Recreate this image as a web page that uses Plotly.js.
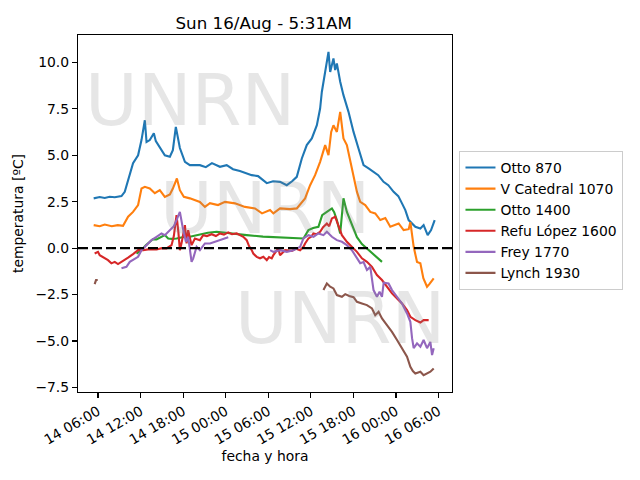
<!DOCTYPE html>
<html>
<head>
<meta charset="utf-8">
<script src="https://cdn.plot.ly/plotly-3.0.1.min.js"></script>
<style>
  body { margin: 0; background: #fff; }
  #plot { width: 640px; height: 480px; }
</style>
</head>
<body>
<div id="plot"></div>
<script>
// hours counted from 14/Aug 00:00, temperatures in ºC, null = no data
var otto870Hours = [5.39, 6.24, 6.95, 7.65, 8.36, 9.31, 9.77, 10.48, 10.94, 11.65, 12.13, 12.6, 12.84, 13.3, 13.87, 14.15, 14.71, 15.42, 16.13, 16.55, 16.97, 17.54, 18.25, 18.95, 20.36, 21.2, 22.06, 23.19, 24.14, 25.03, 26.0, 27.67, 28.56, 29.79, 30.68, 31.66, 32.61, 33.36, 34.02, 34.73, 35.43, 36.14, 36.85, 37.31, 37.55, 38.02, 38.49, 38.73, 39.19, 39.43, 39.67, 40.14, 40.6, 41.31, 42.02, 42.72, 43.43, 44.14, 44.84, 45.5, 46.25, 46.92, 47.67, 48.33, 48.85, 49.32, 49.79, 50.31, 50.73, 51.44, 51.9, 52.47, 52.95, 53.46];
var otto870Temp = [2.68, 2.75, 2.7, 2.77, 2.74, 2.8, 3.03, 3.93, 4.58, 5.0, 5.82, 6.89, 5.72, 5.82, 6.19, 5.76, 5.45, 5.0, 4.92, 5.28, 6.53, 5.39, 4.65, 4.47, 4.47, 4.36, 4.58, 4.38, 4.47, 4.25, 4.15, 3.93, 3.88, 3.5, 3.6, 3.57, 3.39, 3.6, 3.84, 4.83, 5.55, 5.91, 6.62, 7.52, 8.41, 9.49, 10.57, 9.49, 10.22, 9.59, 9.95, 8.96, 8.24, 7.34, 6.26, 5.37, 4.47, 4.29, 4.11, 3.93, 3.57, 3.39, 3.03, 2.8, 2.41, 2.05, 1.51, 1.29, 1.15, 1.06, 1.24, 0.7, 0.97, 1.51];

var catedralHours = [5.39, 6.24, 6.95, 7.94, 8.78, 9.53, 10.24, 10.94, 11.65, 12.13, 12.6, 13.3, 14.01, 14.71, 15.42, 16.13, 16.55, 17.12, 17.54, 18.1, 18.95, 20.36, 21.07, 21.78, 22.91, 23.9, 25.31, 26.72, 28.13, 29.12, 30.25, 30.72, 31.66, 33.07, 34.02, 35.19, 35.9, 36.6, 37.31, 38.02, 38.49, 38.87, 39.19, 39.67, 40.14, 40.6, 41.08, 41.55, 42.02, 42.5, 42.96, 43.67, 44.38, 45.08, 45.79, 46.5, 47.2, 48.38, 49.08, 49.79, 50.03, 50.5, 50.97, 51.44, 51.86, 52.38, 52.71, 53.32];
var catedralTemp = [1.24, 1.18, 1.27, 1.18, 1.24, 1.2, 1.69, 1.95, 2.32, 3.21, 3.3, 3.21, 2.96, 3.12, 2.76, 2.89, 3.21, 3.75, 3.12, 2.76, 2.68, 2.49, 2.22, 2.42, 2.32, 2.49, 2.41, 2.22, 2.14, 1.87, 2.05, 1.87, 2.14, 2.1, 2.14, 2.68, 3.39, 3.93, 4.65, 5.55, 5.01, 6.26, 6.62, 6.26, 7.34, 5.91, 5.55, 4.65, 3.75, 3.03, 2.49, 2.32, 1.95, 1.87, 1.51, 1.62, 1.15, 1.33, 0.97, 1.02, 1.4, 0.07, -0.75, -0.82, -1.62, -2.08, -1.94, -1.63];

var otto1400Hours = [11.42, 12.13, 12.74, 13.3, 13.73, 14.25, 14.95, 15.42, 15.89, 16.41, 17.07, 17.54, 18.25, 18.95, 20.36, 21.49, 22.72, 24.6, 26.96, 29.26, 31.66, 34.96, 35.66, 36.33, 37.07, 37.6, 38.26, 38.97, 39.29, 39.67, 40.14, 40.6, 41.08, 41.79, 42.5, 43.2, 43.91, 44.84, 46.03];
var otto1400Temp = [-0.29, -0.11, 0.16, 0.34, 0.48, 0.47, 0.61, 0.7, 0.52, 0.5, 0.52, 0.57, 0.61, 0.61, 0.75, 0.83, 0.88, 0.79, 0.7, 0.62, 0.58, 0.52, 0.97, 1.08, 1.15, 1.78, 1.95, 2.14, 1.94, 1.51, 0.79, 2.68, 1.95, 1.24, 0.59, 0.22, -0.02, -0.29, -0.74];

var lopezHours = [5.53, 6.0, 6.24, 6.95, 7.41, 7.89, 8.36, 8.82, 9.53, 10.24, 10.94, 11.65, 12.36, 13.06, 14.25, 15.0, 15.66, 16.37, 16.69, 17.07, 17.33, 17.54, 17.78, 18.0, 18.25, 18.49, 18.71, 19.19, 19.66, 20.36, 20.83, 21.35, 22.02, 22.62, 23.19, 23.75, 24.36, 24.88, 25.55, 26.01, 26.48, 26.96, 27.29, 27.67, 27.89, 28.37, 28.84, 29.31, 29.79, 30.11, 30.49, 30.72, 31.2, 31.42, 31.66, 32.37, 33.32, 33.92, 34.49, 34.96, 35.19, 35.66, 36.04, 36.37, 36.82, 37.31, 37.73, 38.26, 38.59, 38.97, 39.43, 39.9, 40.38, 41.08, 41.79, 42.5, 43.2, 43.91, 44.62, 45.32, 46.03, 46.73, 47.44, 48.15, 48.85, 49.56, 50.03, 50.73, 51.44, 51.9, 52.61];
var lopezTemp = [-0.29, -0.2, -0.38, -0.54, -0.65, -0.82, -0.74, -0.86, -0.7, -0.51, -0.32, -0.11, -0.11, -0.07, -0.07, 0.0, -0.02, 0.16, 0.65, 1.78, 0.86, -0.11, 0.27, 0.7, 1.24, 0.25, 0.97, 0.16, 0.52, 0.43, 0.7, 0.65, 0.75, 0.65, 0.79, 0.73, 0.85, 0.75, 0.79, 0.7, 0.61, 0.43, 0.11, -0.11, -0.29, -0.47, -0.55, -0.47, -0.65, -0.48, -0.55, -0.38, -0.11, -0.02, -0.38, -0.11, -0.15, -0.03, -0.11, 0.07, 0.25, 0.52, 0.61, 0.79, 0.75, 0.88, 1.13, 1.33, 1.18, 1.6, 1.69, 1.15, 0.7, 0.34, 0.07, -0.2, -0.55, -0.74, -1.01, -1.45, -1.72, -2.08, -2.44, -2.71, -2.98, -3.34, -3.7, -3.88, -4.01, -3.88, -3.88];

var freyHours = [9.31, 10.01, 10.48, 11.18, 11.65, 12.13, 12.84, 13.54, 14.25, 14.95, 15.42, 15.89, 16.37, 16.69, 17.07, 17.54, 17.92, 18.39, 18.71, 19.19, 19.42, 19.9, 20.36, 21.07, 21.78, 22.48, 23.19, 23.9, 24.36, 27.0, 30.25, 30.72, 31.66, 32.61, 33.54, 34.49, 34.96, 35.66, 36.37, 37.07, 37.78, 38.26, 38.97, 39.67, 40.38, 41.08, 41.79, 42.5, 42.96, 43.43, 43.91, 44.38, 44.84, 45.32, 45.69, 46.03, 46.27, 46.96, 47.44, 48.15, 48.85, 49.56, 50.03, 50.27, 50.5, 50.97, 51.44, 51.9, 52.38, 52.85, 53.09, 53.32];
var freyTemp = [-1.09, -1.01, -0.74, -0.55, -0.47, -0.11, 0.16, 0.43, 0.61, 0.79, 0.7, 0.88, 1.06, 1.18, 1.51, 1.95, 1.15, 0.34, 0.61, -0.74, -0.55, 0.07, -0.11, 0.25, 0.25, 0.34, 0.43, 0.52, 0.58, null, -0.11, -0.2, -0.11, -0.2, -0.11, 0.07, 0.52, 0.7, 0.61, 0.79, 0.7, 0.88, 0.61, 0.43, 0.34, 0.16, -0.11, -0.55, -0.81, -0.75, -1.18, -1.01, -2.26, -2.62, -2.35, -2.62, -1.86, -1.9, -2.26, -2.62, -2.98, -3.52, -3.97, -4.85, -5.39, -5.13, -5.31, -4.95, -5.39, -5.05, -5.76, -5.4];

var lynchHours = [5.53, 5.72, 5.96, 20.0, 37.78, 38.26, 38.73, 39.19, 39.67, 40.38, 40.85, 41.41, 42.02, 42.5, 43.2, 43.91, 44.62, 45.08, 45.55, 46.03, 46.73, 47.44, 48.15, 48.85, 49.56, 50.03, 50.38, 50.73, 51.44, 51.9, 52.38, 52.85, 53.32];
var lynchTemp = [-1.94, -1.72, -1.72, null, -2.26, -1.9, -2.08, -2.17, -2.53, -2.62, -2.48, -2.58, -2.64, -2.89, -2.98, -3.07, -3.25, -3.61, -3.43, -3.79, -4.15, -4.51, -4.95, -5.4, -5.85, -6.39, -6.62, -6.75, -6.66, -6.84, -6.75, -6.66, -6.48];

var stationNames = ['Otto 870', 'V Catedral 1070', 'Otto 1400', 'Refu López 1600', 'Frey 1770', 'Lynch 1930'];
var stationColors = ['#1f77b4', '#ff7f0e', '#2ca02c', '#d62728', '#9467bd', '#8c564b'];
var stationHours = [otto870Hours, catedralHours, otto1400Hours, lopezHours, freyHours, lynchHours];
var stationTemps = [otto870Temp, catedralTemp, otto1400Temp, lopezTemp, freyTemp, lynchTemp];

//Turns hours after 14/Aug 00:00 into a date string plotly understands
function hourToDate(h) {
    var d = new Date(Date.UTC(2020, 7, 14) + Math.round(h * 3600000));
    return d.toISOString().replace('T', ' ').replace('Z', '');
}

var traces = stationNames.map(function(name, i) {
    return {
        x: stationHours[i].map(hourToDate),
        y: stationTemps[i],
        type: 'scatter',
        mode: 'lines',
        name: name,
        connectgaps: false,
        line: { color: stationColors[i], width: 2.1 }
    };
});

var fontFam = 'DejaVu Sans, sans-serif';
var markColor = 'rgba(128,128,128,0.2)';

//The three "UNRN" marks across the plot
var marks = [[0.3, 0.818], [0.5, 0.516], [0.7, 0.208]].map(function(p) {
    return {
        text: 'UNRN', xref: 'paper', yref: 'paper', x: p[0], y: p[1],
        xanchor: 'center', yanchor: 'middle', showarrow: false,
        font: { family: fontFam, size: 72, color: markColor }
    };
});

var layout = {
    width: 640,
    height: 480,
    margin: { l: 78, r: 188, t: 35, b: 88 },
    paper_bgcolor: '#fff',
    plot_bgcolor: '#fff',
    font: { family: fontFam, size: 13.9, color: '#000' },
    title: {
        text: 'Sun 16/Aug - 5:31AM',
        font: { size: 16.7, color: '#000' },
        x: 0.412, xanchor: 'center', y: 0.952, yanchor: 'middle'
    },
    xaxis: {
        type: 'date',
        range: [hourToDate(3.18), hourToDate(55.9)],
        tick0: '2020-08-14 06:00',
        dtick: 6 * 3600000,
        tickformat: '%d %H:%M',
        tickangle: -30,
        ticks: 'outside', ticklen: 5, tickwidth: 1.1, tickcolor: '#000',
        showline: true, linecolor: '#000', linewidth: 1.1, mirror: true,
        showgrid: false, zeroline: false,
        title: { text: 'fecha y hora', standoff: 4, font: { size: 13.9 } }
    },
    yaxis: {
        range: [-7.75, 11.48],
        tick0: 0, dtick: 2.5,
        tickformat: '.1f',
        ticks: 'outside', ticklen: 5, tickwidth: 1.1, tickcolor: '#000',
        showline: true, linecolor: '#000', linewidth: 1.1, mirror: true,
        showgrid: false, zeroline: false,
        title: { text: 'temperatura [ºC]', standoff: 8, font: { size: 13.9 } }
    },
    shapes: [{
        type: 'line', xref: 'paper', x0: 0, x1: 1, yref: 'y', y0: 0, y1: 0,
        line: { color: '#000', width: 2.1, dash: '10px,4px' }
    }],
    annotations: marks,
    showlegend: true,
    legend: {
        x: 1.02, xanchor: 'left', y: 0.675, yanchor: 'top',
        bgcolor: '#fff', bordercolor: '#cccccc', borderwidth: 1,
        tracegroupgap: 0,
        font: { size: 13.9 }
    }
};

Plotly.newPlot('plot', traces, layout, { staticPlot: true });
</script>
</body>
</html>
